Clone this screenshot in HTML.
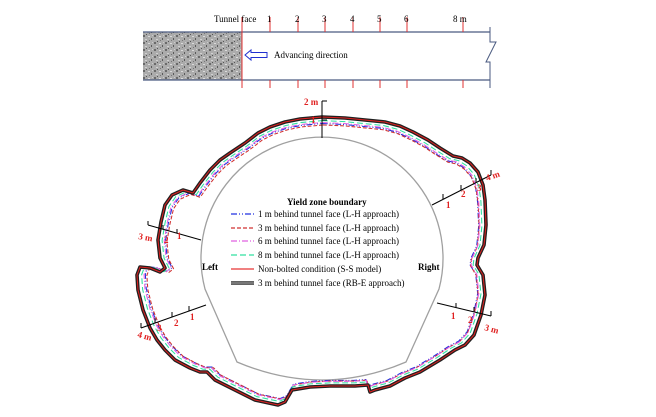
<!DOCTYPE html>
<html><head><meta charset="utf-8"><style>
html,body{margin:0;padding:0;background:#fff}
svg{display:block}
text{font-family:"Liberation Serif",serif}
</style></head><body>
<svg width="656" height="417" viewBox="0 0 656 417" xmlns="http://www.w3.org/2000/svg">
<defs>
<pattern id="rock" width="11" height="7" patternUnits="userSpaceOnUse">
<rect width="11" height="7" fill="#ababab"/>
<rect x="0" y="0" width="2" height="2" fill="#6a6a6a"/>
<rect x="5" y="1" width="2" height="1" fill="#dadada"/>
<rect x="8" y="3" width="1" height="2" fill="#5a5a5a"/>
<rect x="2" y="4" width="2" height="1" fill="#d0d0d0"/>
<rect x="6" y="5" width="1" height="1" fill="#777"/>
<rect x="9" y="0" width="1" height="1" fill="#ccc"/>
<rect x="3" y="6" width="1" height="1" fill="#555"/>
</pattern>
<path id="ob" d="M322,117 L345,118 L365,120 L385,122 L400,126 L413,132 L428,140 L440,148 L453,156 L462,158 L470,163 L478,172 L483,185 L485,200 L486,225 L484,245 L478,258 L477,265 L483,275 L485,295 L481,315 L474,335 L465,345 L455,350 L440,360 L420,372 L405,378 L390,386 L375,390 L370,392 L368,385 L355,386 L330,386 L310,387 L292,390 L285,402 L278,405 L255,400 L235,390 L215,380 L207,372 L200,372 L190,368 L175,360 L165,350 L157,340 L150,328 L143,310 L138,290 L137,275 L140,267 L150,268 L160,272 L165,268 L160,258 L158,240 L161,222 L165,205 L172,195 L183,190 L193,193 L200,183 L210,170 L220,160 L230,153 L245,143 L258,133 L270,127 L285,122 L300,119 Z" fill="none" stroke-linejoin="round"/>
</defs>
<!-- top schematic -->
<rect x="143" y="32" width="99" height="48" fill="url(#rock)"/>
<line x1="143" y1="32" x2="490" y2="32" stroke="#4a5a80" stroke-width="1.2"/>
<line x1="143" y1="80" x2="490" y2="80" stroke="#4a5a80" stroke-width="1.2"/>
<polyline points="490,27 490,42 496,42 486,62 490,62 490,88" fill="none" stroke="#4a5a80" stroke-width="1"/>
<g stroke="#e03030" stroke-width="1">
<line x1="242" y1="17" x2="242" y2="88"/>
<line x1="270" y1="17" x2="270" y2="32"/><line x1="270" y1="80" x2="270" y2="88"/>
<line x1="298" y1="17" x2="298" y2="32"/><line x1="298" y1="80" x2="298" y2="88"/>
<line x1="325" y1="17" x2="325" y2="32"/><line x1="325" y1="80" x2="325" y2="88"/>
<line x1="353" y1="17" x2="353" y2="32"/><line x1="353" y1="80" x2="353" y2="88"/>
<line x1="380" y1="17" x2="380" y2="32"/><line x1="380" y1="80" x2="380" y2="88"/>
<line x1="407" y1="17" x2="407" y2="32"/><line x1="407" y1="80" x2="407" y2="88"/>
<line x1="463" y1="17" x2="463" y2="32"/><line x1="463" y1="80" x2="463" y2="88"/>
</g>
<g font-size="9" fill="#000">
<text x="214" y="22">Tunnel face</text>
<text x="267" y="22">1</text><text x="295" y="22">2</text><text x="322" y="22">3</text>
<text x="350" y="22">4</text><text x="377" y="22">5</text><text x="404" y="22">6</text>
<text x="453" y="22">8 m</text>
<text x="274" y="58">Advancing direction</text>
</g>
<polygon points="245,55 251,50 251,52.5 267,52.5 267,57.5 251,57.5 251,60" fill="#fff" stroke="#2030d0" stroke-width="1"/>

<!-- tunnel outline -->
<path d="M237,362 L205,289 A121,121 0 1 1 439,289 L406,362 Q322,398 237,362 Z" fill="none" stroke="#a0a0a0" stroke-width="1.3"/>

<!-- inner dashed curves (scaled copies of outer) -->
<use href="#ob" transform="translate(322,262) scale(0.955) translate(-322,-262)" stroke="#2030e0" stroke-width="1.1" stroke-dasharray="6,2,1,2,1,2" vector-effect="non-scaling-stroke"/>
<use href="#ob" transform="translate(323,263) scale(0.952) translate(-322,-262)" stroke="#d03030" stroke-width="1.1" stroke-dasharray="4,2" vector-effect="non-scaling-stroke"/>
<use href="#ob" transform="translate(322,262) scale(0.962) translate(-322,-262)" stroke="#e060e0" stroke-width="1.1" stroke-dasharray="6,2,1,2" vector-effect="non-scaling-stroke"/>
<use href="#ob" transform="translate(322,262) scale(0.975) translate(-322,-262)" stroke="#30e0a0" stroke-width="1.1" stroke-dasharray="6,3" vector-effect="non-scaling-stroke"/>

<!-- outer boundary -->
<use href="#ob" stroke="#202020" stroke-width="3.6"/>
<use href="#ob" stroke="#e02020" stroke-width="1"/>

<!-- axes -->
<g stroke="#000" stroke-width="1" fill="none">
<line x1="322" y1="101" x2="322" y2="138"/>
<line x1="322" y1="101" x2="327" y2="101"/><line x1="322" y1="120" x2="327" y2="120"/>
<line x1="148" y1="225" x2="201" y2="240"/>
<line x1="148" y1="225" x2="148" y2="221"/><line x1="163" y1="229" x2="163" y2="225"/><line x1="177" y1="233" x2="177" y2="229"/>
<line x1="141" y1="328" x2="206" y2="305"/>
<line x1="141" y1="328" x2="141" y2="323"/><line x1="155" y1="323" x2="155" y2="318"/><line x1="172" y1="317" x2="172" y2="312"/><line x1="189" y1="311" x2="189" y2="306"/>
<line x1="432" y1="205" x2="491" y2="175"/>
<line x1="443" y1="199" x2="443" y2="194"/><line x1="461" y1="190" x2="461" y2="185"/><line x1="476" y1="183" x2="476" y2="178"/><line x1="491" y1="175" x2="491" y2="170"/>
<line x1="437" y1="303" x2="491" y2="316"/>
<line x1="456" y1="308" x2="456" y2="303"/><line x1="474" y1="312" x2="474" y2="307"/><line x1="491" y1="316" x2="491" y2="311"/>
</g>
<g fill="#e02020" font-size="9" font-weight="bold">
<text x="304" y="105">2 m</text><text x="311" y="123">1</text>
<text x="138" y="239" transform="rotate(10 138 239)">3 m</text><text x="164" y="243">2</text><text x="177" y="239">1</text>
<text x="137" y="337" transform="rotate(15 137 337)">4 m</text><text x="157" y="331">3</text><text x="174" y="326">2</text><text x="190" y="320">1</text>
<text x="446" y="208">1</text><text x="461" y="197">2</text><text x="477" y="191">3</text><text x="487" y="181" transform="rotate(-20 487 181)">4 m</text>
<text x="451" y="319">1</text><text x="468" y="323">2</text><text x="484" y="330" transform="rotate(15 484 330)">3 m</text>
</g>
<g font-size="9" fill="#000">
<text x="202" y="270" font-weight="bold">Left</text>
<text x="418" y="270" font-weight="bold">Right</text>
<text x="287" y="205" font-weight="bold">Yield zone boundary</text>
<text x="258" y="217">1 m behind tunnel face (L-H approach)</text>
<text x="258" y="231">3 m behind tunnel face (L-H approach)</text>
<text x="258" y="244">6 m behind tunnel face (L-H approach)</text>
<text x="258" y="258">8 m behind tunnel face (L-H approach)</text>
<text x="258" y="272">Non-bolted condition (S-S model)</text>
<text x="258" y="286">3 m behind tunnel face (RB-E approach)</text>
</g>
<g stroke-width="1.3">
<line x1="231" y1="214" x2="254" y2="214" stroke="#2030e0" stroke-dasharray="6,2,1,2,1,2"/>
<line x1="231" y1="228" x2="254" y2="228" stroke="#d03030" stroke-dasharray="4,2"/>
<line x1="231" y1="241" x2="254" y2="241" stroke="#e060e0" stroke-dasharray="6,2,1,2"/>
<line x1="231" y1="255" x2="254" y2="255" stroke="#30e0a0" stroke-dasharray="6,3"/>
<line x1="231" y1="269" x2="254" y2="269" stroke="#f08080" stroke-width="2"/>
<line x1="231" y1="283" x2="254" y2="283" stroke="#303030" stroke-width="3.5"/>
<line x1="231" y1="283" x2="254" y2="283" stroke="#c0c0c0" stroke-width="1"/>
</g>
</svg>
</body></html>
